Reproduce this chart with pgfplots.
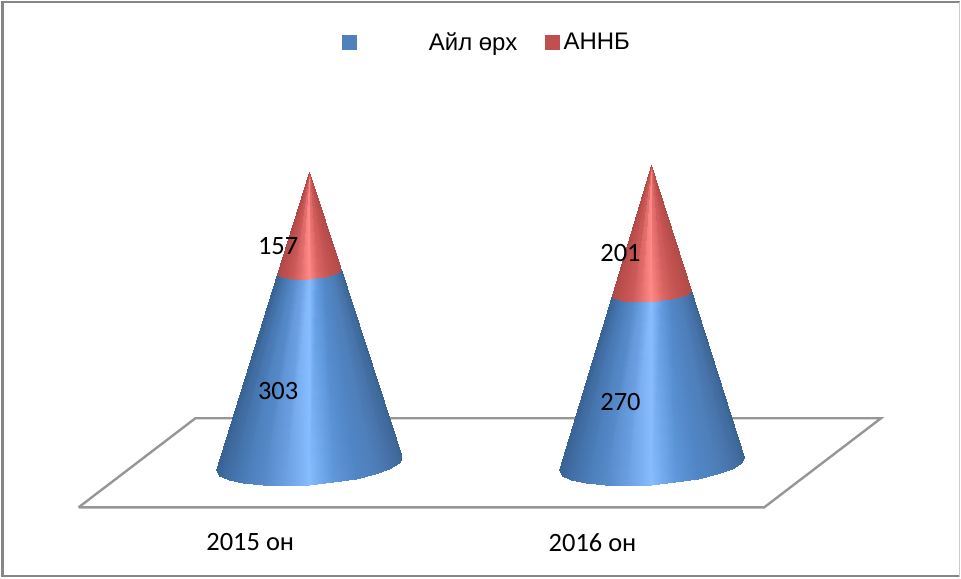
\documentclass[border=0pt]{standalone}
\usepackage{fontspec}
\setmainfont{Carlito}
\newfontfamily\legfont{Liberation Sans}
\usepackage{pgfplots}
\pgfplotsset{compat=1.18}
\pgfplotsset{
  colormap={coneblue}{rgb255=(58,99,146) rgb255=(63,106,156) rgb255=(72,115,170) rgb255=(78,127,186) rgb255=(81,134,198) rgb255=(95,152,220) rgb255=(134,189,255) rgb255=(106,159,226) rgb255=(85,137,200) rgb255=(74,124,184) rgb255=(66,112,166) rgb255=(60,102,154) rgb255=(57,98,148)},
  colormap={conered}{rgb255=(172,74,72) rgb255=(178,76,74) rgb255=(186,78,76) rgb255=(194,82,79) rgb255=(204,90,88) rgb255=(222,104,102) rgb255=(255,138,136) rgb255=(228,112,110) rgb255=(204,90,88) rgb255=(194,82,79) rgb255=(186,78,76) rgb255=(178,76,74) rgb255=(170,72,70)},
  valuelabel/.style={draw=none, mark=none, forget plot, nodes near coords, point meta=explicit symbolic,
    every node near coord/.style={anchor=center, inner sep=0pt, text=black, font=\fontsize{26.5}{31}\selectfont}},
  conepart/.style={surf, shader=interp, mesh/cols=13, point meta=explicit, forget plot},
}
\definecolor{legblue}{RGB}{79,129,189}
\definecolor{legred}{RGB}{192,80,77}
\definecolor{framegray}{RGB}{134,134,134}
\definecolor{floorgray}{RGB}{150,150,150}
\begin{document}
\begin{tikzpicture}
\begin{axis}[
  scale only axis, width=961pt, height=578pt,
  xmin=-0.9009, xmax=1.9009, ymin=-178, ymax=731.1,
  hide axis, clip=false,
  point meta min=0, point meta max=12,
  legend columns=2,
  legend style={at={(rel axis cs:0.5068,0.9273)}, anchor=center, draw=none, fill=none, inner sep=0pt, outer sep=0pt,
    font=\legfont\fontsize{24}{28}\selectfont, /tikz/every even column/.append style={column sep=26pt}},
  legend image code/.code={\fill[#1] (0pt,-7pt) rectangle (14pt,7pt);},
]
\addlegendimage{legblue}
\addlegendentry{\hspace*{71pt}Айл өрх}
\addlegendimage{legred}
\addlegendentry{\hspace*{2pt}АННБ}

% picture extent
\addplot[draw=none, forget plot] coordinates {(-0.9009,-178) (1.9009,731.1)};
% frame
\addplot[framegray, line width=2.5pt, forget plot] coordinates {(-0.8951,-178) (-0.8951,728) (1.9009,728)};
\addplot[framegray, line width=1.5pt, forget plot] coordinates {(-0.9009,-177) (1.9009,-177)};
\addplot[gray!40, line width=1.2pt, forget plot] coordinates {(1.8995,-178) (1.8995,728)};

% floor
\addplot[floorgray, line width=2.4pt, forget plot] coordinates {(-0.6735,-68.6) (-0.3324,71.8) (1.6706,71.8) (1.3294,-68.6) (-0.6735,-68.6)};

% 2015 Ail orh
\addplot[conepart, colormap name=coneblue] table[x=x,y=y,meta=m] {
x y m
0.2711 10.25 0
0.2619 1.33 1
0.2348 -7.67 2
0.1917 -16.15 3
0.1356 -23.54 4
0.0702 -29.32 5
0 -33.1 6
-0.0702 -34.62 7
-0.1356 -33.80 8
-0.1917 -30.65 9
-0.2348 -25.43 10
-0.2619 -18.47 11
-0.2711 -10.25 12
0.0925 306.5 0
0.0894 303.45 1
0.0801 300.38 2
0.0654 297.49 3
0.0463 294.97 4
0.0240 292.99 5
0 291.7 6
-0.0240 291.18 7
-0.0463 291.46 8
-0.0654 292.54 9
-0.0801 294.32 10
-0.0894 296.7 11
-0.0925 299.5 12
};
% 2015 ANNB
\addplot[conepart, colormap name=conered] table[x=x,y=y,meta=m] {
x y m
0.0925 306.5 0
0.0894 303.45 1
0.0801 300.38 2
0.0654 297.49 3
0.0463 294.97 4
0.0240 292.99 5
0 291.7 6
-0.0240 291.18 7
-0.0463 291.46 8
-0.0654 292.54 9
-0.0801 294.32 10
-0.0894 296.7 11
-0.0925 299.5 12
0 460 0
0 460 1
0 460 2
0 460 3
0 460 4
0 460 5
0 460 6
0 460 7
0 460 8
0 460 9
0 460 10
0 460 11
0 460 12
};
% 2016 Ail orh
\addplot[conepart, colormap name=coneblue] table[x=x,y=y,meta=m] {
x y m
1.2711 10.25 0
1.2619 1.33 1
1.2348 -7.67 2
1.1917 -16.15 3
1.1356 -23.54 4
1.0702 -29.32 5
1 -33.1 6
0.9298 -34.62 7
0.8644 -33.80 8
0.8083 -30.65 9
0.7652 -25.43 10
0.7381 -18.47 11
0.7289 -10.25 12
1.1157 274.37 0
1.1118 270.57 1
1.1002 266.73 2
1.0818 263.11 3
1.0579 259.95 4
1.0300 257.49 5
1 255.87 6
0.9700 255.22 7
0.9421 255.57 8
0.9182 256.92 9
0.8998 259.15 10
0.8882 262.12 11
0.8843 265.63 12
};
% 2016 ANNB
\addplot[conepart, colormap name=conered] table[x=x,y=y,meta=m] {
x y m
1.1157 274.37 0
1.1118 270.57 1
1.1002 266.73 2
1.0818 263.11 3
1.0579 259.95 4
1.0300 257.49 5
1 255.87 6
0.9700 255.22 7
0.9421 255.57 8
0.9182 256.92 9
0.8998 259.15 10
0.8882 262.12 11
0.8843 265.63 12
1 471 0
1 471 1
1 471 2
1 471 3
1 471 4
1 471 5
1 471 6
1 471 7
1 471 8
1 471 9
1 471 10
1 471 11
1 471 12
};

% value labels
\addplot[valuelabel] coordinates {(-0.0904,114.4) [303] (-0.0904,343) [157] (0.9096,97) [270] (0.9096,332) [201]};
% category labels
\addplot[valuelabel] coordinates {(-0.172,-123.8) [2015 он] (0.828,-123.8) [2016 он]};
\end{axis}
\end{tikzpicture}
\end{document}
